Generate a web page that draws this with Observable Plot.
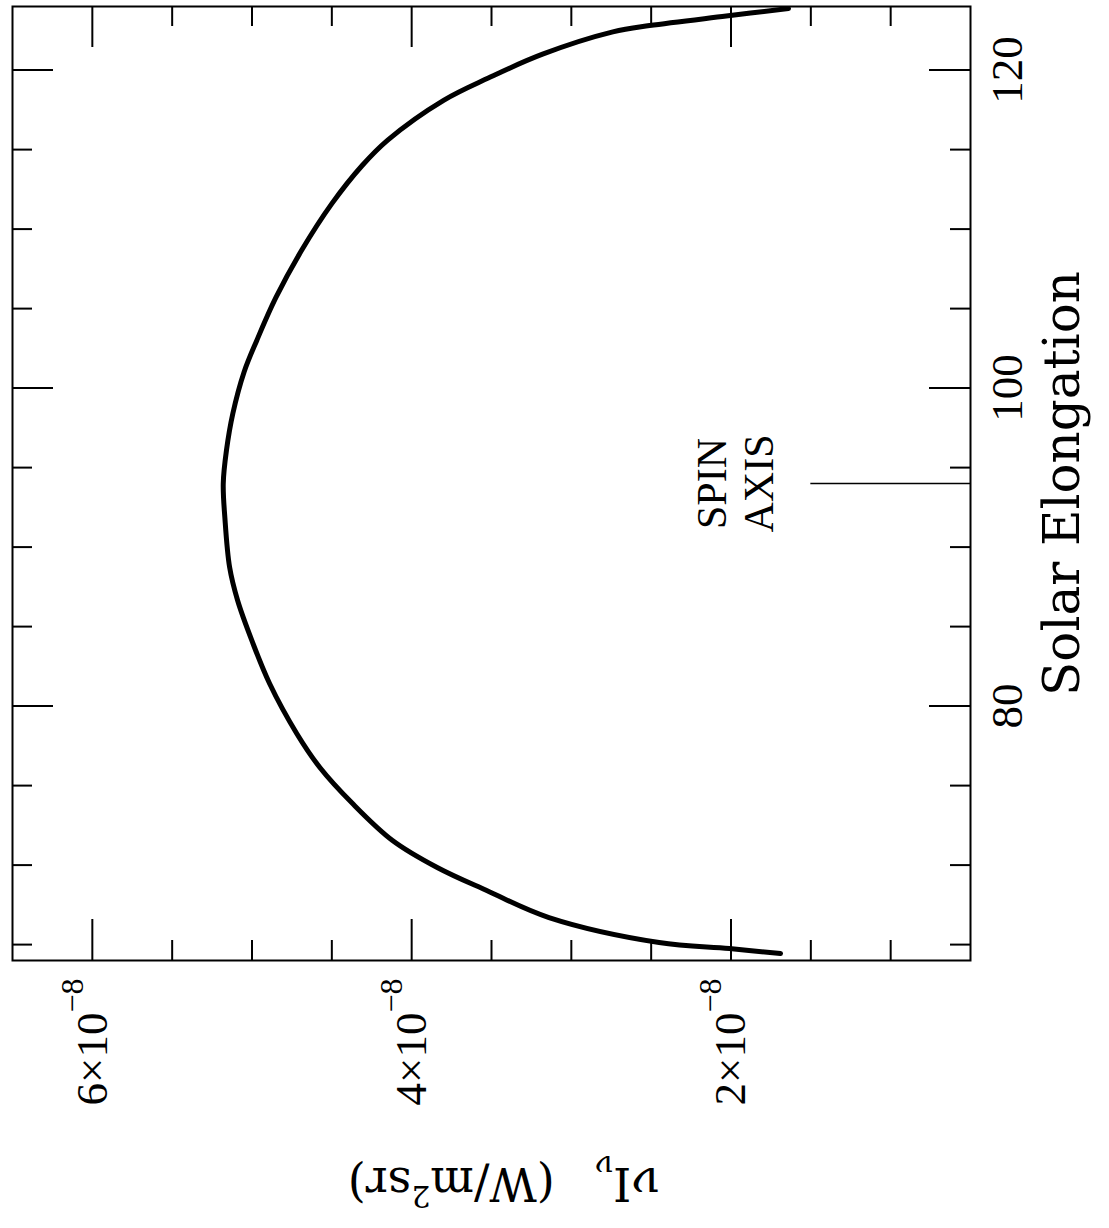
<!DOCTYPE html>
<html><head><meta charset="utf-8">
<script src="https://cdn.jsdelivr.net/npm/d3@7"></script>
<script src="https://cdn.jsdelivr.net/npm/@observablehq/plot@0.6"></script>
<style>body{margin:0;background:#fff} svg{display:block}</style>
</head><body><div id="chart"></div>
<script>
// Solar elongation (deg) and intensity nu*I_nu (units of 1e-8 W/m^2/sr)
const elongation = [64.44, 64.75, 65.13, 66.7, 68.4, 69.85, 71.55, 73.87, 76.14, 78.28, 81.42, 84.1, 86.64, 88.72, 91.86, 94.0, 96.08, 98.4, 101.0, 103.0, 105.7, 108.65, 111.6, 114.0, 115.6, 118.1, 119.5, 121.0, 122.4, 122.8, 123.4, 123.87];
const intensity  = [1.69, 2.01, 2.45, 3.14, 3.53, 3.84, 4.12, 4.37, 4.575, 4.72, 4.89, 5.0, 5.09, 5.14, 5.17, 5.18, 5.16, 5.12, 5.05, 4.97, 4.85, 4.69, 4.50, 4.31, 4.15, 3.80, 3.52, 3.18, 2.74, 2.51, 2.03, 1.64];

// axes
const intensityMajor = [2, 4, 6];
const intensityMinor = [1, 1.5, 2.5, 3, 3.5, 4.5, 5, 5.5];
const elongationMajor = [80, 100, 120];
const elongationMinor = [65, 70, 75, 85, 90, 95, 105, 110, 115];
const intensityDomain = [6.5, 0.5];
const elongationDomain = [64, 124];
const xTitle = "Solar Elongation";
const yTitle = "νIν (W/m2sr)";

// spin axis annotation
const spinLabel = "SPIN\nAXIS";
const spinElongation = 94;
const spinIntensityFrom = 1.5;
const spinIntensityTo = 0.5;
const spinLabelIntensity = 1.98;

const W = 1109, H = 1228, mL = 12, mR = 139, mT = 6, mB = 268;
const innerH = H - mT - mB, innerW = W - mL - mR;
const MAJ = 41, MIN = 20;
const points = elongation.map((e, i) => ({e, v: intensity[i]}));
const serif = "'Liberation Serif', 'Times New Roman', serif";
const dserif = "'DejaVu Serif', serif";

const chart = Plot.plot({
  width: W, height: H,
  marginLeft: mL, marginRight: mR, marginTop: mT, marginBottom: mB,
  x: {domain: intensityDomain, axis: null},
  y: {domain: elongationDomain, axis: null},
  style: {background: "white", color: "black", fontFamily: serif},
  marks: [
    Plot.frame({stroke: "black", strokeWidth: 2}),
    Plot.tickX(intensityMajor, {x: d => d, insetBottom: innerH - MAJ, strokeWidth: 2}),
    Plot.tickX(intensityMajor, {x: d => d, insetTop: innerH - MAJ, strokeWidth: 2}),
    Plot.tickX(intensityMinor, {x: d => d, insetBottom: innerH - MIN, strokeWidth: 2}),
    Plot.tickX(intensityMinor, {x: d => d, insetTop: innerH - MIN, strokeWidth: 2}),
    Plot.tickY(elongationMajor, {y: d => d, insetRight: innerW - MAJ, strokeWidth: 2}),
    Plot.tickY(elongationMajor, {y: d => d, insetLeft: innerW - MAJ, strokeWidth: 2}),
    Plot.tickY(elongationMinor, {y: d => d, insetRight: innerW - MIN, strokeWidth: 2}),
    Plot.tickY(elongationMinor, {y: d => d, insetLeft: innerW - MIN, strokeWidth: 2}),
    Plot.line(points, {x: "v", y: "e", stroke: "black", strokeWidth: 5, curve: "catmull-rom", strokeLinejoin: "round", strokeLinecap: "round"}),
    Plot.ruleY([spinElongation], {x1: spinIntensityFrom, x2: spinIntensityTo, strokeWidth: 1.5}),
    Plot.text([spinLabel], {x: spinLabelIntensity, y: spinElongation, rotate: -90, fontSize: 42, lineHeight: 1.14, textAnchor: "middle", lineAnchor: "middle", fontFamily: serif}),
    Plot.text(elongationMajor, {y: d => d, text: d => String(d), frameAnchor: "right", dx: 37, rotate: -90, fontSize: 45, textAnchor: "middle", lineAnchor: "middle", fontFamily: serif}),
    Plot.text(intensityMajor, {x: d => d, text: d => `${d}×10^−8`, frameAnchor: "bottom", dy: 18, rotate: -90, fontSize: 45, textAnchor: "end", lineAnchor: "middle", fontFamily: serif}),
    Plot.text([xTitle], {frameAnchor: "right", dx: 92, rotate: -90, fontSize: 50, textAnchor: "middle", lineAnchor: "middle", fontFamily: dserif}),
    Plot.text([yTitle], {frameAnchor: "bottom", dx: 12, dy: 222, rotate: 180, fontSize: 46, textAnchor: "middle", lineAnchor: "middle", fontFamily: dserif})
  ]
});

// superscripts / subscripts as real text spans
d3.select(chart).selectAll("text").each(function () {
  const t = this.textContent;
  const s = d3.select(this);
  if (t.includes("^")) {
    const [base, exp] = t.split("^");
    s.text(null);
    s.append("tspan").text(base);
    s.append("tspan").attr("dy", -24).attr("font-size", 32).text(exp);
  } else if (t === yTitle) {
    s.text(null);
    s.append("tspan").text("νI");
    s.append("tspan").attr("dy", 12).attr("font-size", 30).text("ν");
    s.append("tspan").attr("dy", -12).attr("dx", 40).text("(W/m");
    s.append("tspan").attr("dy", -18).attr("font-size", 30).text("2");
    s.append("tspan").attr("dy", 18).text("sr)");
  }
});

document.getElementById("chart").appendChild(chart);
</script>
</body></html>
